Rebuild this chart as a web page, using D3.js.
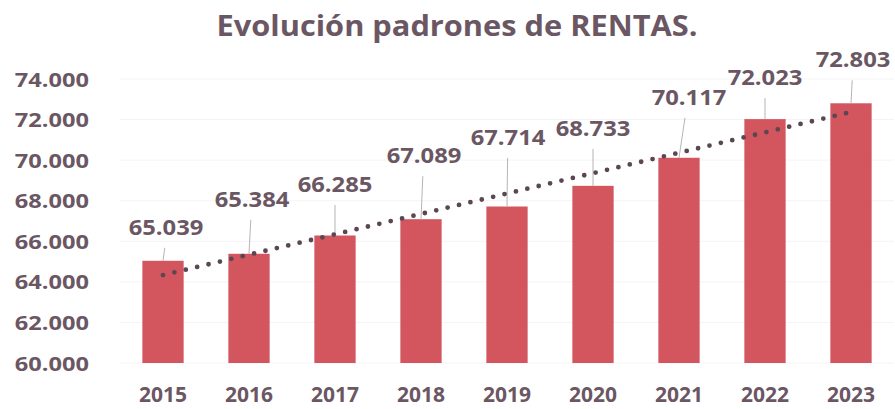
<!DOCTYPE html>
<html>
<head>
<meta charset="utf-8">
<script src="https://cdn.jsdelivr.net/npm/d3@7"></script>
<style>
  html, body { margin: 0; padding: 0; background: #ffffff; }
  svg { display: block; }
  text { font-family: "Open Sans", "Lato", sans-serif; font-weight: 700; }
</style>
</head>
<body>
<svg id="chart" width="895" height="409"></svg>
<script>
// ---- data ----
const years = ["2015", "2016", "2017", "2018", "2019", "2020", "2021", "2022", "2023"];
const padrones = [65039, 65384, 66285, 67089, 67714, 68733, 70117, 72023, 72803];
const yTicks = [60000, 62000, 64000, 66000, 68000, 70000, 72000, 74000];
const titleText = "Evolución padrones de RENTAS.";

// ---- layout (label placement as in the reference, px) ----
const labelLift = [26, 47, 43.5, 56, 61.5, 50, 53, 34, 36];
const labelShift = [3, 3, 0, 3, 1, 0, 10, 0, 2];

const textColor = "#6b5763";
const barColor = "#d3565f";
const trendColor = "#5a4753";

const fmtThousands = v => {
  const s = String(Math.round(v));
  return s.slice(0, s.length - 3) + "." + s.slice(-3);
};

const svg = d3.select("#chart");

const x = d3.scaleBand().domain(years).range([120, 894]).paddingInner(0.52).paddingOuter(0.26);
const y = d3.scaleLinear().domain([60000, 74000]).range([363, 79]);

function stretch(sel, k) {
  sel.each(function () {
    const len = this.getComputedTextLength();
    d3.select(this).attr("textLength", len * k).attr("lengthAdjust", "spacingAndGlyphs");
  });
}

// gridlines
svg.append("g").selectAll("line").data(yTicks).join("line")
  .attr("x1", 120).attr("x2", 894)
  .attr("y1", d => y(d)).attr("y2", d => y(d))
  .attr("stroke", "#f4f4f4").attr("stroke-width", 1);

// y axis labels
const yAxis = svg.append("g").attr("transform", "translate(89,0)")
  .call(d3.axisLeft(y).tickValues(yTicks).tickSize(0).tickPadding(0).tickFormat(fmtThousands));
yAxis.select(".domain").remove();
yAxis.selectAll("text")
  .attr("fill", textColor).attr("font-size", 20).attr("dy", "0.35em")
  .style("font-family", "'Open Sans', sans-serif").style("font-weight", 700);
stretch(yAxis.selectAll("text"), 1.18);

// x axis labels
const xAxis = svg.append("g").attr("transform", "translate(0,363)")
  .call(d3.axisBottom(x).tickSize(0).tickPadding(0));
xAxis.select(".domain").remove();
xAxis.selectAll("text")
  .attr("fill", textColor).attr("font-size", 21).attr("y", 39).attr("dy", 0)
  .style("font-family", "'Open Sans', sans-serif").style("font-weight", 700);

// bars
svg.append("g").selectAll("rect").data(padrones).join("rect")
  .attr("x", (d, i) => x(years[i]))
  .attr("width", x.bandwidth())
  .attr("y", d => y(d))
  .attr("height", d => y(60000) - y(d))
  .attr("fill", barColor);

// leader lines
svg.append("g").selectAll("line").data(padrones).join("line")
  .attr("x1", (d, i) => x(years[i]) + x.bandwidth() / 2 + labelShift[i] * 0.6)
  .attr("x2", (d, i) => x(years[i]) + x.bandwidth() / 2)
  .attr("y1", (d, i) => y(d) - labelLift[i] + 13)
  .attr("y2", d => y(d))
  .attr("stroke", "#b5b5b5").attr("stroke-width", 1);

// trend line (linear regression)
const n = padrones.length;
const xs = d3.range(n);
const mx = d3.mean(xs), my = d3.mean(padrones);
const slope = d3.sum(xs, i => (i - mx) * (padrones[i] - my)) / d3.sum(xs, i => (i - mx) ** 2);
const intercept = my - slope * mx;
const step = x.step();
const cx = i => x(years[0]) + x.bandwidth() / 2 + i * step;
svg.append("line")
  .attr("x1", cx(0)).attr("y1", y(intercept))
  .attr("x2", cx(n - 1)).attr("y2", y(intercept + slope * (n - 1)))
  .attr("stroke", trendColor).attr("stroke-width", 4.8)
  .attr("stroke-linecap", "round").attr("stroke-dasharray", "0 11.7");

// data labels
const labels = svg.append("g").selectAll("text").data(padrones).join("text")
  .attr("x", (d, i) => x(years[i]) + x.bandwidth() / 2 + labelShift[i])
  .attr("y", (d, i) => y(d) - labelLift[i])
  .attr("text-anchor", "middle")
  .attr("fill", textColor).attr("font-size", 22)
  .text(d => fmtThousands(d));
stretch(labels, 1.08);

// title
const title = svg.append("text")
  .attr("x", 457).attr("y", 36)
  .attr("text-anchor", "middle")
  .attr("fill", textColor).attr("font-size", 29)
  .text(titleText);
title.attr("textLength", 481).attr("lengthAdjust", "spacingAndGlyphs");
</script>
</body>
</html>
